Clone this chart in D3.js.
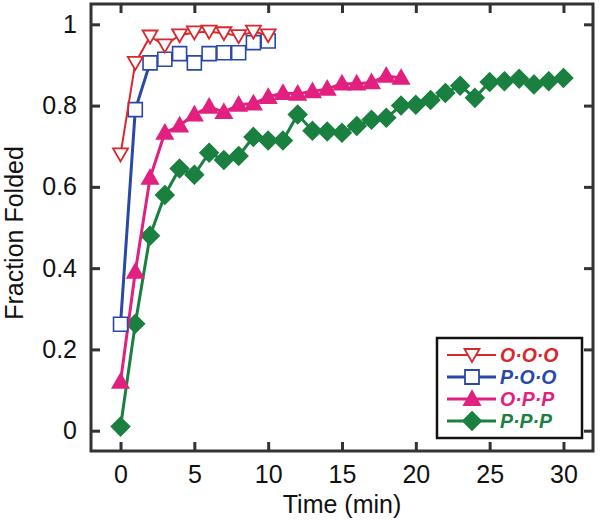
<!DOCTYPE html>
<html><head><meta charset="utf-8">
<script src="https://cdn.jsdelivr.net/npm/d3@7"></script>
<style>html,body{margin:0;padding:0;background:#fff;}svg{display:block;font-family:"Liberation Sans",Arial,sans-serif;}</style>
</head><body>
<svg id="c" width="600" height="524"></svg>
<script>
const timeOOO = [0,1,2,3,4,5,6,7,8,9,10];
const valOOO = [0.68,0.905,0.97,0.948,0.973,0.98,0.982,0.978,0.971,0.982,0.973];
const timePOO = [0,1,2,3,4,5,6,7,8,9,10];
const valPOO = [0.262,0.79,0.905,0.914,0.928,0.905,0.928,0.930,0.930,0.955,0.959];
const timeOPP = [0,1,2,3,4,5,6,7,8,9,10,11,12,13,14,15,16,17,18,19];
const valOPP = [0.12,0.391,0.622,0.733,0.751,0.778,0.797,0.784,0.802,0.805,0.821,0.831,0.829,0.835,0.841,0.854,0.854,0.857,0.873,0.868];
const timePPP = [0,1,2,3,4,5,6,7,8,9,10,11,12,13,14,15,16,17,18,19,20,21,22,23,24,25,26,27,28,29,30];
const valPPP = [0.01,0.263,0.48,0.58,0.645,0.63,0.684,0.666,0.676,0.723,0.714,0.714,0.778,0.738,0.736,0.733,0.75,0.765,0.77,0.8,0.802,0.814,0.831,0.849,0.819,0.858,0.86,0.866,0.852,0.86,0.868];
const seriesNames = ["O·O·O","P·O·O","O·P·P","P·P·P"];
const xTicks = [0,5,10,15,20,25,30];
const yTicks = [0,0.2,0.4,0.6,0.8,1];
const yTickLabels = ["0","0.2","0.4","0.6","0.8","1"];

const series = [
  {name: seriesNames[0], t: timeOOO, v: valOOO, color: "#d9272e", marker: "triDown", lw: 2},
  {name: seriesNames[1], t: timePOO, v: valPOO, color: "#2a48a5", marker: "square", lw: 3},
  {name: seriesNames[2], t: timeOPP, v: valOPP, color: "#e2207f", marker: "triUp", lw: 3},
  {name: seriesNames[3], t: timePPP, v: valPPP, color: "#1a8040", marker: "diamond", lw: 3}
];

const svg = d3.select("#c");
const L = 91, R = 593, T = 4, B = 451;
const x = d3.scaleLinear().domain([-2, 32]).range([L, R]);
const y = d3.scaleLinear().domain([-0.05, 1.05]).range([B, T]);
const frameColor = "#333";

function markerPath(type) {
  if (type === "triDown") return "M-7.5,-6 L7.5,-6 L0,7 Z";
  if (type === "square") return "M-7,-7 L7,-7 L7,7 L-7,7 Z";
  if (type === "triUp") return "M0,-8 L8,6 L-8,6 Z";
  if (type === "diamond") return "M0,-9 L9,0 L0,9 L-9,0 Z";
}
function markerFill(s) {
  return (s.marker === "triDown" || s.marker === "square") ? "#fff" : s.color;
}

const drawOrder = [3,2,1,0];
drawOrder.forEach(i => {
  const s = series[i];
  const pts = s.t.map((t, k) => [t, s.v[k]]);
  const line = d3.line().x(d => x(d[0])).y(d => y(d[1]));
  svg.append("path").attr("d", line(pts)).attr("fill", "none")
    .attr("stroke", s.color).attr("stroke-width", s.lw).attr("stroke-linejoin", "round");
  svg.append("g").selectAll("path").data(pts).join("path")
    .attr("transform", d => `translate(${x(d[0])},${y(d[1])})`)
    .attr("d", markerPath(s.marker))
    .attr("fill", markerFill(s))
    .attr("stroke", s.color).attr("stroke-width", s.marker === "square" ? 1.6 : 1.8)
    .attr("stroke-linejoin", "miter");
});

const axBottom = d3.axisBottom(x).tickValues(xTicks).tickSizeInner(-9).tickSizeOuter(0).tickPadding(14).tickFormat(d3.format("d"));
const axTop = d3.axisTop(x).tickValues(xTicks).tickSizeInner(-9).tickSizeOuter(0).tickFormat("");
const axLeft = d3.axisLeft(y).tickValues(yTicks).tickSizeInner(-9).tickSizeOuter(0).tickPadding(14).tickFormat((d, i) => yTickLabels[i]);
const axRight = d3.axisRight(y).tickValues(yTicks).tickSizeInner(-9).tickSizeOuter(0).tickFormat("");

function style(g) {
  g.selectAll(".domain").remove();
  g.selectAll(".tick line").attr("stroke", frameColor).attr("stroke-width", 3);
  g.selectAll(".tick text").attr("fill", "#111").attr("font-size", 25).attr("font-family", "Liberation Sans, Arial, sans-serif");
}
svg.append("g").attr("transform", `translate(0,${B})`).call(axBottom).call(style);
svg.append("g").attr("transform", `translate(0,${T})`).call(axTop).call(style);
svg.append("g").attr("transform", `translate(${L},0)`).call(axLeft).call(style);
svg.append("g").attr("transform", `translate(${R},0)`).call(axRight).call(style);

svg.append("rect").attr("x", L).attr("y", T).attr("width", R - L).attr("height", B - T)
  .attr("fill", "none").attr("stroke", frameColor).attr("stroke-width", 3);

svg.append("text").attr("x", 342).attr("y", 513).attr("text-anchor", "middle")
  .attr("font-size", 25).attr("fill", "#111").text("Time (min)");
svg.append("text").attr("transform", `translate(23,233) rotate(-90)`).attr("text-anchor", "middle")
  .attr("font-size", 25).attr("fill", "#111").text("Fraction Folded");

const lg = svg.append("g");
lg.append("rect").attr("x", 437).attr("y", 338).attr("width", 145).attr("height", 100)
  .attr("fill", "#fff").attr("stroke", "#111").attr("stroke-width", 2.5);
series.forEach((s, i) => {
  const yy = 355 + i * 22;
  lg.append("line").attr("x1", 447).attr("x2", 496).attr("y1", yy).attr("y2", yy)
    .attr("stroke", s.color).attr("stroke-width", s.lw);
  lg.append("path").attr("transform", `translate(472,${yy})`).attr("d", markerPath(s.marker))
    .attr("fill", markerFill(s)).attr("stroke", s.color).attr("stroke-width", 1.8);
  lg.append("text").attr("x", 500).attr("y", yy + 7).attr("font-size", 19.5)
    .attr("font-weight", "bold").attr("font-style", "italic").attr("fill", s.color).text(s.name);
});
</script>
</body></html>
